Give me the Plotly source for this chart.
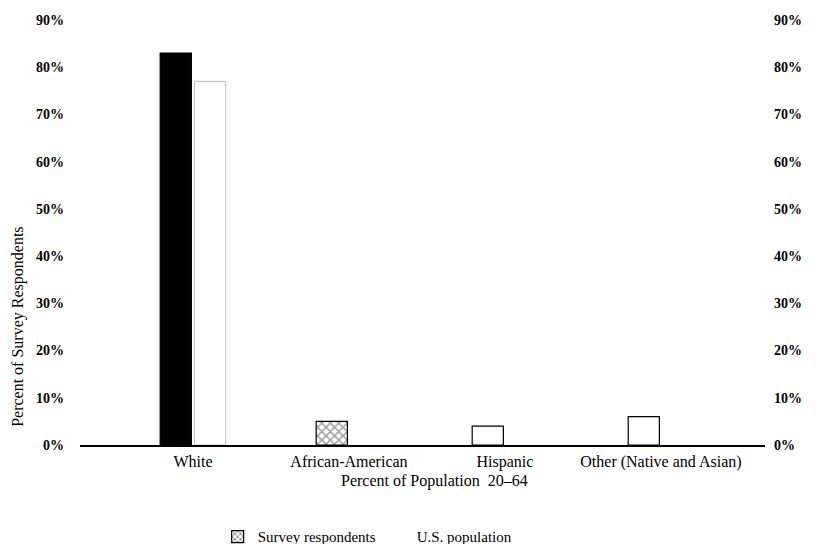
import plotly.graph_objects as go

categories = ["White", "African-American", "Hispanic", "Other (Native and Asian)"]
survey_respondents = [83, 5, 4, 6]
us_population = [77, None, None, None]
tick_values = [0, 10, 20, 30, 40, 50, 60, 70, 80, 90]
tick_labels = ["0%", "10%", "20%", "30%", "40%", "50%", "60%", "70%", "80%", "90%"]

FONT = "Liberation Serif"

survey_colors = ["black", "white", "white", "white"]
survey_shapes = ["", "x", "", ""]

fig = go.Figure()

fig.add_trace(go.Bar(
    x=categories, y=survey_respondents, name="Survey respondents",
    width=0.2, offset=-0.21, showlegend=False,
    marker=dict(color=survey_colors,
                line=dict(color="black", width=1.2),
                pattern=dict(shape=survey_shapes, fgcolor="black", bgcolor="white",
                             solidity=0.45, size=6)),
))
fig.add_trace(go.Bar(
    x=categories, y=us_population, name="U.S. population",
    width=0.2, offset=0.01, showlegend=False,
    marker=dict(color="white", line=dict(color="#bdbdbd", width=1)),
))
# legend entries
fig.add_trace(go.Bar(
    x=[categories[0]], y=[None], name="Survey respondents", width=0.2, offset=-0.21,
    marker=dict(color="white", line=dict(color="black", width=1.2),
                pattern=dict(shape="x", fgcolor="black", bgcolor="white", solidity=0.4, size=5)),
))
fig.add_trace(go.Bar(
    x=[categories[0]], y=[None], name="U.S. population", width=0.2, offset=0.01,
    marker=dict(color="white", line=dict(color="white", width=0)),
))
fig.add_trace(go.Scatter(x=[categories[0]], y=[None], yaxis="y2", showlegend=False))

fig.update_layout(
    width=808, height=536,
    margin=dict(l=72, r=51, t=12, b=99, autoexpand=False),
    barmode="overlay",
    plot_bgcolor="white", paper_bgcolor="white",
    font=dict(family=FONT, color="black"),
    xaxis=dict(
        type="category", range=[-0.724, 3.667], automargin=False,
        showline=True, linecolor="black", linewidth=2,
        ticks="", tickfont=dict(size=16, family=FONT), ticklabelstandoff=1,
        showgrid=False,
    ),
    yaxis=dict(
        range=[0, 90], tickvals=tick_values, ticktext=tick_labels, automargin=False,
        showgrid=False, zeroline=False, showline=False, ticks="",
        tickfont=dict(size=14, family=FONT, weight="bold"),
        ticklabelstandoff=15,
    ),
    yaxis2=dict(
        range=[0, 90], tickvals=tick_values, ticktext=tick_labels, automargin=False,
        overlaying="y", side="right",
        showgrid=False, zeroline=False, showline=False, ticks="",
        tickfont=dict(size=14, family=FONT, weight="bold"),
        ticklabelstandoff=8,
    ),
    legend=dict(
        orientation="h", x=0.201, xanchor="left", y=-0.216, yanchor="middle",
        font=dict(size=15, family=FONT), entrywidth=114, entrywidthmode="pixels",
        itemwidth=30,
    ),
    annotations=[
        dict(
            text="Percent of Survey Respondents", textangle=-90,
            xref="paper", yref="paper", x=-0.0905, y=0.278, xanchor="center", yanchor="middle",
            showarrow=False, font=dict(size=16, family=FONT),
        ),
        dict(
            text="Percent of Population  20–64",
            xref="paper", yref="paper", x=0.517, y=-0.085, xanchor="center", yanchor="middle",
            showarrow=False, font=dict(size=16, family=FONT),
        ),
    ],
)

fig.write_html("out.html")
